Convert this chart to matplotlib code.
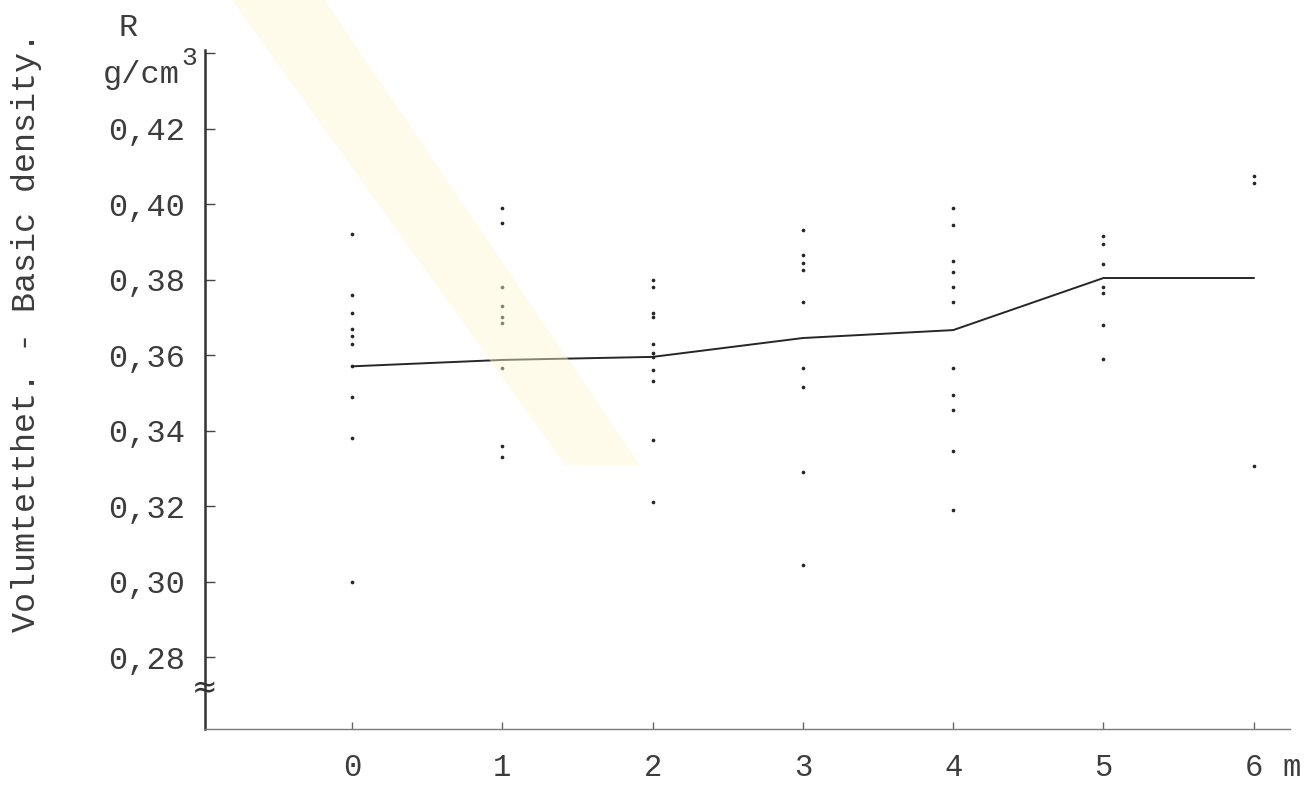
import numpy as np
import matplotlib
matplotlib.use("Agg")
import matplotlib.pyplot as plt
import matplotlib.transforms as mtransforms
from matplotlib.patches import Polygon

# height along the stem (m) and the mean basic density curve
positions = [0, 1, 2, 3, 4, 5, 6]
mean_density = [0.357, 0.3587, 0.3595, 0.3645, 0.3666, 0.3804, 0.3804]

# single measurements, one list per height
samples_0 = [0.392, 0.376, 0.371, 0.367, 0.365, 0.363, 0.357, 0.349, 0.338, 0.300]
samples_1 = [0.399, 0.395, 0.378, 0.373, 0.370, 0.3685, 0.3565, 0.336, 0.333]
samples_2 = [0.380, 0.378, 0.371, 0.370, 0.363, 0.3605, 0.3595, 0.356, 0.353, 0.3375, 0.321]
samples_3 = [0.393, 0.3865, 0.3845, 0.3825, 0.374, 0.3565, 0.3515, 0.329, 0.3045]
samples_4 = [0.399, 0.3945, 0.385, 0.382, 0.378, 0.374, 0.3565, 0.3495, 0.3455, 0.3345, 0.319]
samples_5 = [0.3915, 0.3895, 0.384, 0.378, 0.3765, 0.368, 0.359]
samples_6 = [0.4075, 0.4055, 0.3305]
samples = [samples_0, samples_1, samples_2, samples_3, samples_4, samples_5, samples_6]

y_ticks = [0.28, 0.30, 0.32, 0.34, 0.36, 0.38, 0.40, 0.42, 0.44]
y_labels = ["0,28", "0,30", "0,32", "0,34", "0,36", "0,38", "0,40", "0,42", ""]
x_labels = ["0", "1", "2", "3", "4", "5", "6"]

W, H = 1306, 787
font = "Liberation Mono"
ink = "#262626"
txt = "#3c3c3c"


def px(x, y):
    # top-left pixel -> figure fraction
    return x / W, 1 - y / H


fig = plt.figure(figsize=(W / 100, H / 100), dpi=100)
fig.patch.set_facecolor("white")

# faint yellow stain from the scan
band = Polygon([px(232, 0), px(325, 0), px(640, 465), px(565, 465)],
               closed=True, transform=fig.transFigure, facecolor="#fff7d2",
               edgecolor="none", alpha=0.45, zorder=0)
fig.patches.append(band)

ax = fig.add_axes([205 / W, (H - 729) / H, (1290 - 205) / W, (729 - 50) / H])
ax.patch.set_alpha(0)
ax.set_xlim(-0.978, 6.241)
ax.set_ylim(0.36 - (729 - 355) / 3775, 0.4408)

for pos, vals in zip(positions, samples):
    ax.scatter([pos] * len(vals), vals, s=7, color=ink, marker="o", linewidths=0, zorder=3)

ax.plot(positions, mean_density, color=ink, lw=1.4, zorder=2)

for s in ["top", "right"]:
    ax.spines[s].set_visible(False)
ax.spines["left"].set_color("#333333")
ax.spines["left"].set_linewidth(1.8)
ax.spines["bottom"].set_color("#7a7a7a")
ax.spines["bottom"].set_linewidth(1.0)

ax.set_yticks(y_ticks)
ax.set_yticklabels(y_labels, fontfamily=font, fontsize=23, color=txt)
ax.tick_params(axis="y", direction="in", length=7, width=1, color="#444444", pad=14)

ax.set_xticks(positions)
ax.set_xticklabels([])
ax.tick_params(axis="x", direction="in", length=5, width=1, color="#666666")

# x labels sit well below the axis line
lab_tf = mtransforms.blended_transform_factory(ax.transData, fig.transFigure)
for pos, lab in zip(positions, x_labels):
    ax.text(pos, 1 - 776 / H, lab, transform=lab_tf, ha="center", va="baseline",
            fontfamily=font, fontsize=22, color=txt, clip_on=False)
ax.text(6.25, 1 - 776 / H, "m", transform=lab_tf, ha="center", va="baseline",
        fontfamily=font, fontsize=22, color=txt, clip_on=False)

# axis break mark
ax.text(-0.978, 0.2715, "\u2248", ha="center", va="center",
        fontsize=22, color="#333333", clip_on=False)

# unit labels over the axis
fig.text(*px(128, 28), "R", ha="center", va="center", fontfamily=font, fontsize=23, color=txt)
fig.text(*px(180, 75), "g/cm", ha="right", va="center", fontfamily=font, fontsize=23, color=txt)
fig.text(*px(181, 58), "3", ha="left", va="center", fontfamily=font, fontsize=19, color=txt)

fig.text(*px(27, 332), "Volumtetthet. - Basic density.", rotation=90, ha="center", va="center",
         fontfamily=font, fontsize=24, color=txt)

fig.savefig("out.png", dpi=100, facecolor="white")
